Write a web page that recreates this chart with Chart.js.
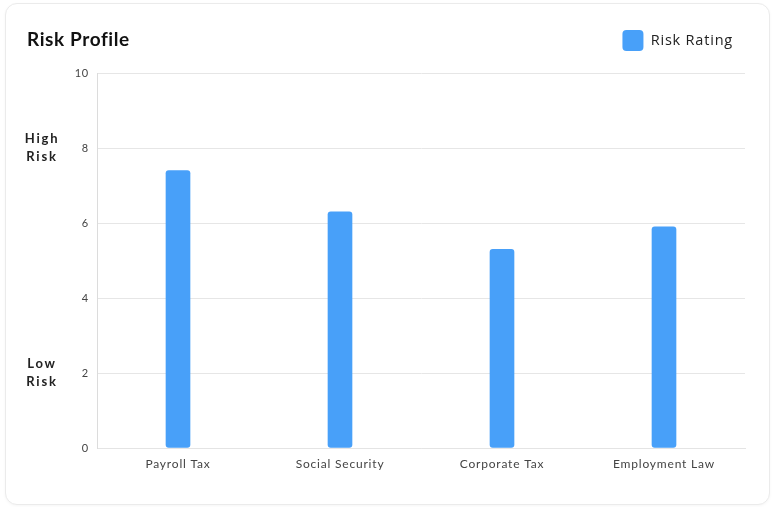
<!DOCTYPE html>
<html>
<head>
<meta charset="utf-8">
<script src="https://cdn.jsdelivr.net/npm/chart.js@4"></script>
<style>
  html, body { margin: 0; padding: 0; background: #ffffff; }
  #card {
    position: absolute; left: 5px; top: 3px; width: 763px; height: 500px;
    border: 1px solid #ebebeb; border-radius: 12px; background: #fff;
    box-shadow: 0 1px 3px rgba(0,0,0,0.04);
  }
  #wrap { position: absolute; left: 0; top: 0; width: 763px; height: 500px; }
</style>
</head>
<body>
<div id="card"><div id="wrap"><canvas id="c"></canvas></div></div>
<script>
const chartTitle = "Risk Profile";
const categories = ["Payroll Tax", "Social Security", "Corporate Tax", "Employment Law"];
const seriesName = "Risk Rating";
const riskRating = [7.4, 6.3, 5.3, 5.9];
const yTicks = [0, 2, 4, 6, 8, 10];
const sideLabels = [
  { value: 8, lines: ["High", "Risk"] },
  { value: 2, lines: ["Low", "Risk"] }
];

const barColor = "#48A0F9";

const spacingPlugin = {
  id: "spacing",
  beforeUpdate(chart) { chart.ctx.letterSpacing = "0.8px"; },
  beforeRender(chart) { chart.ctx.letterSpacing = "0.8px"; },
  beforeDraw(chart) { chart.ctx.letterSpacing = "0.8px"; }
};

const sidePlugin = {
  id: "sideLabels",
  afterDraw(chart) {
    const ctx = chart.ctx;
    const y = chart.scales.y;
    ctx.save();
    ctx.fillStyle = "#111";
    ctx.font = "bold 19px Lato, 'Open Sans', sans-serif";
    ctx.textAlign = "left";
    ctx.textBaseline = "middle";
    ctx.letterSpacing = "0.6px";
    ctx.fillText(chartTitle, 21, 36);
    ctx.fillStyle = "#222";
    ctx.font = "bold 13px Lato, 'Open Sans', sans-serif";
    ctx.textAlign = "center";
    ctx.letterSpacing = "1.8px";
    sideLabels.forEach(s => {
      const py = y.getPixelForValue(s.value);
      ctx.fillText(s.lines[0], 36, py - 9);
      ctx.fillText(s.lines[1], 36, py + 9);
    });
    ctx.restore();
  }
};

new Chart(document.getElementById("c"), {
  type: "bar",
  data: {
    labels: categories,
    datasets: [{
      label: seriesName,
      data: riskRating,
      backgroundColor: barColor,
      borderRadius: 3,
      borderSkipped: false,
      barThickness: 24
    }]
  },
  options: {
    responsive: true,
    maintainAspectRatio: false,
    animation: false,
    layout: { padding: { top: 14, right: 24, left: 0, bottom: 0 } },
    plugins: {
      title: { display: false },
      tooltip: { enabled: false },
      legend: {
        position: "top",
        align: "end",
        labels: {
          boxWidth: 21,
          boxHeight: 21,
          useBorderRadius: true,
          borderRadius: 4,
          padding: 12,
          color: "#222",
          font: { family: "'Open Sans', Lato, sans-serif", size: 14.5 }
        }
      }
    },
    scales: {
      xTop: {
        type: "category",
        position: "top",
        labels: categories,
        display: true,
        grid: { display: false, drawTicks: false },
        border: { display: false },
        ticks: { display: false },
        afterFit(s) { s.height = 12; }
      },
      x: {
        grid: { display: false, drawTicks: false },
        border: { display: true, color: "#e4e4e4" },
        ticks: {
          color: "#444",
          padding: 9,
          font: { family: "Lato, 'Open Sans', sans-serif", size: 12 }
        },
        afterFit(s) { s.height = 56; }
      },
      y: {
        min: 0,
        max: 10,
        afterBuildTicks(s) { s.ticks = yTicks.map(v => ({ value: v })); },
        grid: { color: "#e6e6e6", drawTicks: false },
        border: { display: true, color: "#dcdcdc" },
        ticks: {
          color: "#444",
          padding: 8,
          font: { family: "Lato, 'Open Sans', sans-serif", size: 11 }
        },
        afterFit(s) { s.width = 91; }
      }
    }
  },
  plugins: [spacingPlugin, sidePlugin]
});
</script>
</body>
</html>
